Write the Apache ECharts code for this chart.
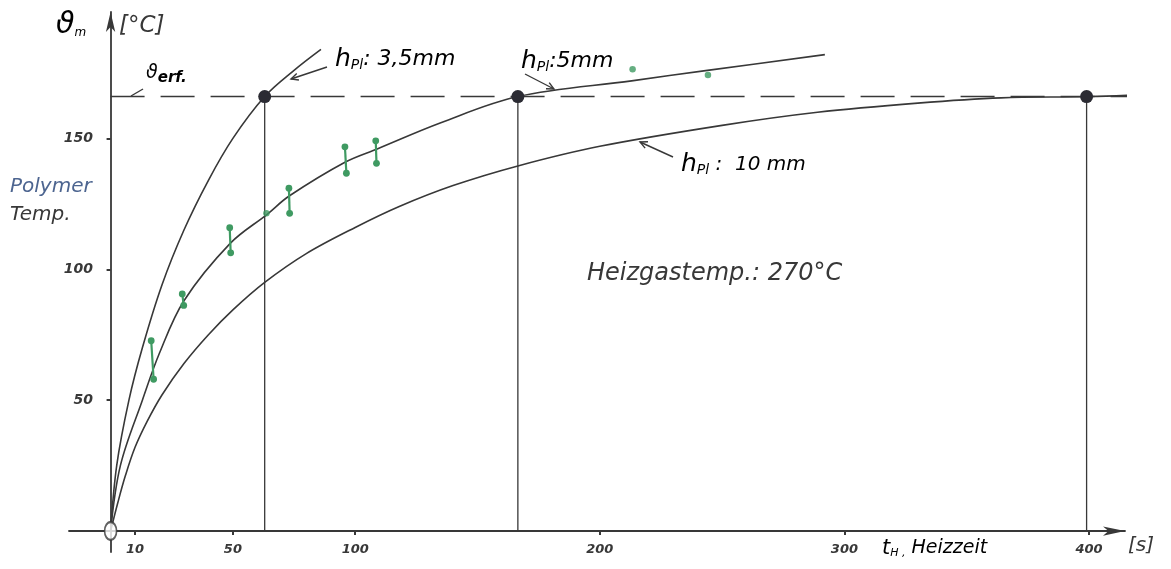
<!DOCTYPE html>
<html>
<head>
<meta charset="utf-8">
<script src="https://cdn.jsdelivr.net/npm/echarts@6/dist/echarts.min.js"></script>
<style>
  html, body { margin: 0; padding: 0; background: #fff; }
  #main { width: 1171px; height: 569px; }
</style>
</head>
<body>
<div id="main"></div>
<script>
// axis ticks
var xTicks = [10, 50, 100, 200, 300, 400];
var yTicks = [50, 100, 150];

// required polymer temperature (dashed line)
var tempErf = 166;

// heating curves, [t in s, temp in °C]
var curve35 = [[0, 0], [2.5, 25], [7.5, 50], [13, 70], [21, 94], [30, 115], [40, 134], [50, 150], [63, 166], [75, 176], [86, 184]];
var curve5 = [[0, 0], [4, 25], [13, 50], [20, 68], [30, 88], [49, 110], [64, 121], [73, 128], [96, 141], [109, 146], [135, 156], [166.5, 166], [213, 172], [244, 176], [292, 182]];
var curve10 = [[0, 0], [3, 11], [6, 21], [10, 32], [15, 42], [21, 52], [30, 64], [40, 75], [50, 84.5], [63, 95], [80, 106], [100, 116], [118, 124], [140, 132], [166.5, 139.5], [200, 147], [250, 155], [289, 160], [330, 163.5], [364, 165.5], [400, 166], [430, 167]];

// heating times where the curves reach tempErf
var crossTimes = [63, 166.5, 399];

// measured ranges (green), [t top, temp top, t bottom, temp bottom]
var measRanges = [
  [16.6, 72.7, 17.6, 58],
  [29.3, 90.6, 29.9, 86.2],
  [48.7, 115.9, 49.1, 106.3],
  [72.9, 131, 73.2, 121.4],
  [95.8, 146.8, 96.4, 136.7],
  [108.4, 149.1, 108.7, 140.5]
];
var measSingle = [[63.7, 121.4], [213.4, 176.4], [244.2, 174.2]];

var ink = '#383838';
var green = '#3f9a62';
var font = 'DejaVu Sans';

// little pointer with an open arrow head at (x2, y2)
function pointer(x1, y1, x2, y2) {
  var a = Math.atan2(y2 - y1, x2 - x1), L = 8, s = 0.45;
  return [
    { type: 'line', shape: { x1: x1, y1: y1, x2: x2, y2: y2 }, style: { stroke: ink, lineWidth: 1.4 } },
    { type: 'polyline', shape: { points: [
        [x2 - L * Math.cos(a - s), y2 - L * Math.sin(a - s)], [x2, y2],
        [x2 - L * Math.cos(a + s), y2 - L * Math.sin(a + s)]] },
      style: { stroke: ink, lineWidth: 1.4, fill: null } }
  ];
}

function hRich(size) {
  return {
    h: { fontFamily: font, fontStyle: 'italic', fontSize: 25, color: ink },
    s: { fontFamily: font, fontStyle: 'italic', fontSize: 14, color: ink, padding: [12, 0, 0, 0] },
    t: { fontFamily: font, fontStyle: 'italic', fontSize: size, color: ink }
  };
}

function curveSeries(name, data) {
  return { name: name, type: 'line', data: data, symbol: 'none', smooth: 0.35, lineStyle: { color: ink, width: 1.6 } };
}

var myChart = echarts.init(document.getElementById('main'));
myChart.setOption({
  backgroundColor: '#fff',
  animation: false,
  grid: { left: 69, right: 46, top: 12, bottom: 17 },
  xAxis: {
    type: 'value',
    min: -17,
    max: 414.7,
    splitLine: { show: false },
    axisLine: { onZero: true, symbol: ['none', 'arrow'], symbolSize: [7, 22], lineStyle: { color: ink, width: 1.8 } },
    axisTick: { customValues: xTicks, length: 4, lineStyle: { color: ink, width: 2 } },
    axisLabel: { customValues: xTicks, margin: -9, color: ink, fontFamily: font, fontStyle: 'italic', fontWeight: 'bold', fontSize: 13 }
  },
  yAxis: {
    type: 'value',
    min: -8,
    max: 198.3,
    splitLine: { show: false },
    axisLine: { onZero: true, symbol: ['none', 'arrow'], symbolSize: [7, 20], lineStyle: { color: ink, width: 1.8 } },
    axisTick: { customValues: yTicks, length: 4, lineStyle: { color: ink, width: 2 } },
    axisLabel: { customValues: yTicks, margin: -24, color: ink, fontFamily: font, fontStyle: 'italic', fontWeight: 'bold', fontSize: 14 }
  },
  series: [
    {
      name: 'erf', type: 'line', data: [[0, tempErf], [430, tempErf]], symbol: 'none',
      lineStyle: { color: ink, width: 1.6, type: [34, 16] }, z: 1
    },
    curveSeries('3,5mm', curve35),
    curveSeries('5mm', curve5),
    curveSeries('10mm', curve10),
    {
      name: 'cross', type: 'custom', data: crossTimes.map(function (t) { return [t, tempErf]; }), z: 5,
      renderItem: function (params, api) {
        var top = api.coord([api.value(0), api.value(1)]);
        var bot = api.coord([api.value(0), 0]);
        return {
          type: 'group', children: [
            { type: 'line', shape: { x1: top[0], y1: top[1], x2: bot[0], y2: bot[1] }, style: { stroke: ink, lineWidth: 1.3 } },
            { type: 'circle', shape: { cx: top[0], cy: top[1], r: 6.5 }, style: { fill: '#2b2b33' } }
          ]
        };
      }
    },
    {
      name: 'mess', type: 'custom', data: measRanges, z: 6,
      renderItem: function (params, api) {
        var a = api.coord([api.value(0), api.value(1)]);
        var b = api.coord([api.value(2), api.value(3)]);
        return {
          type: 'group', children: [
            { type: 'line', shape: { x1: a[0], y1: a[1], x2: b[0], y2: b[1] }, style: { stroke: green, lineWidth: 2.2 } },
            { type: 'circle', shape: { cx: a[0], cy: a[1], r: 3.4 }, style: { fill: green } },
            { type: 'circle', shape: { cx: b[0], cy: b[1], r: 3.4 }, style: { fill: green } }
          ]
        };
      }
    },
    { name: 'einzel', type: 'scatter', data: measSingle, symbolSize: 6.5, itemStyle: { color: green }, z: 6 },
    {
      name: 'origin', type: 'scatter', data: [[0, 0]], symbol: 'emptyCircle', symbolSize: [12, 18],
      itemStyle: { color: ink, borderColor: ink, borderWidth: 1.5 }, z: 7
    }
  ],
  graphic: [
    { type: 'text', left: 56, top: 10, style: { rich: {
        v: { fontFamily: font, fontStyle: 'italic', fontSize: 30, color: ink },
        m: { fontFamily: font, fontStyle: 'italic', fontSize: 12, color: ink, padding: [16, 0, 0, 0] }
      }, text: '{v|ϑ}{m|m}' } },
    { type: 'text', left: 119, top: 15, style: { text: '[°C]', fontFamily: font, fontStyle: 'italic', fontSize: 23, fill: ink } },
    { type: 'text', left: 146, top: 64, style: { rich: {
        v: { fontFamily: font, fontStyle: 'italic', fontSize: 19, color: ink },
        e: { fontFamily: font, fontStyle: 'italic', fontWeight: 'bold', fontSize: 15, color: ink, padding: [10, 0, 0, 0] }
      }, text: '{v|ϑ}{e|erf.}' } },
    { type: 'line', shape: { x1: 131, y1: 96, x2: 143, y2: 89 }, style: { stroke: ink, lineWidth: 1.4 } },
    { type: 'text', left: 10, top: 177, style: { text: 'Polymer', fontFamily: font, fontStyle: 'italic', fontSize: 20, fill: '#4d6590' } },
    { type: 'text', left: 10, top: 205, style: { text: 'Temp.', fontFamily: font, fontStyle: 'italic', fontSize: 20, fill: ink } },
    { type: 'text', left: 335, top: 47, style: { rich: hRich(22), text: '{h|h}{s|Pl}{t|: 3,5mm}' } },
    { type: 'text', left: 521, top: 49, style: { rich: hRich(22), text: '{h|h}{s|Pl}{t|:5mm}' } },
    { type: 'text', left: 681, top: 152, style: { rich: hRich(20), text: '{h|h}{s|Pl}{t| :  10 mm}' } },
    { type: 'text', left: 587, top: 262, style: { text: 'Heizgastemp.: 270°C', fontFamily: font, fontStyle: 'italic', fontSize: 24, fill: ink } },
    { type: 'text', left: 882, top: 538, style: { rich: {
        t: { fontFamily: font, fontStyle: 'italic', fontSize: 21, color: ink },
        s: { fontFamily: font, fontStyle: 'italic', fontSize: 11, color: ink, padding: [10, 0, 0, 0] },
        n: { fontFamily: font, fontStyle: 'italic', fontSize: 19, color: ink }
      }, text: '{t|t}{s|H ,}{n| Heizzeit}' } },
    { type: 'text', left: 1128, top: 536, style: { text: '[s]', fontFamily: font, fontStyle: 'italic', fontSize: 20, fill: ink } }
  ]
    .concat(pointer(327, 67, 291, 79))
    .concat(pointer(525, 74, 554, 89))
    .concat(pointer(673, 157, 640, 142))
});
</script>
</body>
</html>
